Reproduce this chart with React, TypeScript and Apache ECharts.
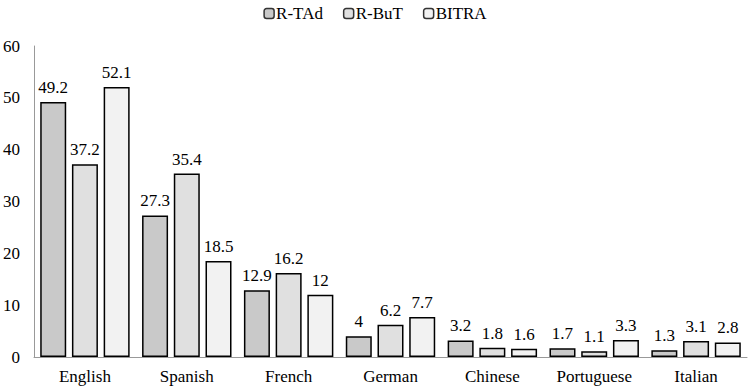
import React, { useEffect, useRef } from "react";
import * as echarts from "echarts";

const categories = ["English", "Spanish", "French", "German", "Chinese", "Portuguese", "Italian"];
const rTAd = [49.2, 27.3, 12.9, 4, 3.2, 1.7, 1.3];
const rBuT = [37.2, 35.4, 16.2, 6.2, 1.8, 1.1, 3.1];
const bitra = [52.1, 18.5, 12, 7.7, 1.6, 3.3, 2.8];
const seriesNames = ["R-TAd", "R-BuT", "BITRA"];
const colors = ["#c9c9c9", "#e0e0e0", "#f2f2f2"];

const FONT = "Liberation Serif";

export default function App() {
  const ref = useRef<HTMLDivElement>(null);
  useEffect(() => {
    document.body.style.margin = "0";
    if (!ref.current) return;
    const chart = echarts.init(ref.current, undefined, { renderer: "svg" });
    const data = [rTAd, rBuT, bitra];
    chart.setOption({
      animation: false,
      textStyle: { fontFamily: FONT },
      legend: {
        top: 0,
        left: "center",
        itemWidth: 10,
        itemHeight: 10,
        itemGap: 20,
        textStyle: { fontFamily: FONT, fontSize: 17, color: "#000", padding: [0, 0, 0, -3] },
        data: seriesNames.map((name) => ({
          name,
          itemStyle: { borderColor: "#333", borderWidth: 1.5 },
        })),
      },
      grid: { left: 34, right: 3, top: 46, bottom: 32, containLabel: false },
      xAxis: {
        type: "category",
        data: categories,
        axisLine: { lineStyle: { color: "#999" } },
        axisTick: { show: false },
        axisLabel: { fontFamily: FONT, fontSize: 17, color: "#000", margin: 11 },
      },
      yAxis: {
        type: "value",
        min: 0,
        max: 60,
        interval: 10,
        axisLine: { show: true, lineStyle: { color: "#999" } },
        axisTick: { show: false },
        splitLine: { show: false },
        axisLabel: { fontFamily: FONT, fontSize: 17, color: "#000", margin: 14 },
      },
      series: seriesNames.map((name, i) => ({
        name,
        type: "bar",
        data: data[i],
        barWidth: 26,
        barGap: "22%",
        itemStyle: { color: colors[i], borderColor: "#000", borderWidth: 1.5 },
        label: {
          show: true,
          position: "top",
          distance: 6,
          fontFamily: FONT,
          fontSize: 17,
          color: "#000",
          formatter: (p: any) => `{v|${p.value}}`,
          rich: {
            v: { fontFamily: FONT, fontSize: 17, color: "#000" },
          },
        },
      })),
    });
    return () => chart.dispose();
  }, []);
  return <div ref={ref} style={{ width: 750, height: 389 }} />;
}
